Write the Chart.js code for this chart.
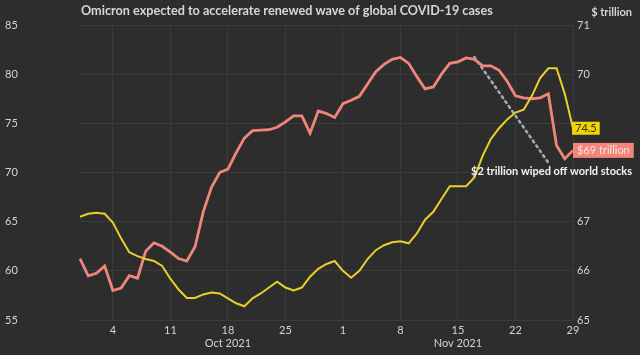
<!DOCTYPE html>
<html><head><meta charset="utf-8">
<script src="https://cdn.jsdelivr.net/npm/chart.js@4"></script>
<style>html,body{margin:0;padding:0;background:#2d2d2d;}#wrap{width:640px;height:355px;}</style>
</head><body><div id="wrap"><canvas id="c" width="640" height="355"></canvas></div>
<script>
const titleText = 'Omicron expected to accelerate renewed wave of global COVID-19 cases';
const dates = ['Sep 30',
 'Oct 1','Oct 2','Oct 3','Oct 4','Oct 5','Oct 6','Oct 7','Oct 8','Oct 9','Oct 10',
 'Oct 11','Oct 12','Oct 13','Oct 14','Oct 15','Oct 16','Oct 17','Oct 18','Oct 19','Oct 20',
 'Oct 21','Oct 22','Oct 23','Oct 24','Oct 25','Oct 26','Oct 27','Oct 28','Oct 29','Oct 30','Oct 31',
 'Nov 1','Nov 2','Nov 3','Nov 4','Nov 5','Nov 6','Nov 7','Nov 8','Nov 9','Nov 10',
 'Nov 11','Nov 12','Nov 13','Nov 14','Nov 15','Nov 16','Nov 17','Nov 18','Nov 19','Nov 20',
 'Nov 21','Nov 22','Nov 23','Nov 24','Nov 25','Nov 26','Nov 27','Nov 28','Nov 29'];
const shownTicks = ['Oct 4','Oct 11','Oct 18','Oct 25','Nov 1','Nov 8','Nov 15','Nov 22','Nov 29'];
const monthTicks = {'Oct 18':'Oct 2021','Nov 15':'Nov 2021'};
// Left axis series (yellow)
const casesSeries = [65.5,65.8,65.9,65.8,64.9,63.3,61.9,61.5,61.2,61.0,
 60.5,59.2,58.1,57.25,57.25,57.6,57.8,57.7,57.2,56.7,
 56.4,57.2,57.7,58.3,58.9,58.3,58.0,58.3,59.4,60.2,
 60.7,61.0,60.0,59.3,60.0,61.2,62.1,62.6,62.9,63.0,
 62.8,63.8,65.2,66.0,67.3,68.6,68.6,68.6,69.5,71.7,
 73.4,74.5,75.4,76.1,76.4,77.8,79.6,80.6,80.6,78.0,74.5];
// Right axis series (salmon), $ trillion
const stocksSeries = [66.25,65.9,65.95,66.1,65.6,65.65,65.9,65.85,66.4,66.57,
 66.5,66.38,66.25,66.2,66.49,67.2,67.7,68.0,68.07,68.4,
 68.7,68.85,68.86,68.87,68.92,69.03,69.15,69.15,68.8,69.25,
 69.2,69.12,69.4,69.47,69.55,69.8,70.05,70.2,70.3,70.34,
 70.22,69.95,69.7,69.74,70.0,70.22,70.25,70.33,70.3,70.17,
 70.17,70.08,69.85,69.56,69.52,69.5,69.52,69.6,68.55,68.28,68.45];
// Dotted drop line endpoints (right axis)
const dropFrom = {date:'Nov 17', value:70.35};
const dropTo = {date:'Nov 26', value:68.2};
const leftTicks = [55,60,65,70,75,80,85];
const rightTicks = [65,66,67,68,69,70,71];
const hiddenRightTicks = [68,69];
const casesLabel = '74.5';
const stocksLabel = '$69 trillion';
const dropLabel = '$2 trillion wiped off world stocks';
const rightUnit = '$ trillion';

const dropSeries = dates.map(d => d===dropFrom.date ? dropFrom.value : (d===dropTo.date ? dropTo.value : null));

const FONT = 'Lato, "Open Sans", sans-serif';
const TXT = '#d4d4d4';
const YEL = '#e8cf2c';
const RED = '#f2857a';

const overlay = {
  id:'overlay',
  afterDatasetsDraw(chart){
    const ctx = chart.ctx, ca = chart.chartArea;
    const yl = chart.scales.yL, yr = chart.scales.yR;
    ctx.save();
    // title
    ctx.font = 'bold 12px ' + FONT;
    let w = ctx.measureText(titleText).width;
    let fs = 12 * 412 / w;
    ctx.font = 'bold ' + fs.toFixed(2) + 'px ' + FONT;
    ctx.fillStyle = '#d6d6d6';
    ctx.textBaseline = 'middle';
    ctx.textAlign = 'left';
    ctx.fillText(titleText, 81, 11);
    // unit
    ctx.font = 'bold 11px ' + FONT;
    ctx.textAlign = 'right';
    ctx.fillStyle = TXT;
    ctx.fillText(rightUnit, 632, 12);
    // drop label
    ctx.font = 'bold 11px ' + FONT;
    ctx.fillStyle = '#f2f2f2';
    ctx.textAlign = 'right';
    ctx.fillText(dropLabel, 632, 171);
    // cases box
    const lastC = casesSeries[casesSeries.length-1];
    let y1 = yl.getPixelForValue(lastC);
    ctx.font = '11px ' + FONT;
    ctx.textAlign = 'left';
    let bw = ctx.measureText(casesLabel).width + 6;
    ctx.fillStyle = '#f2d20a';
    ctx.fillRect(ca.right - 1, y1 - 6.5, bw, 13);
    ctx.fillStyle = '#3a3000';
    ctx.fillText(casesLabel, ca.right + 2, y1 + 0.5);
    // stocks box
    const lastS = stocksSeries[stocksSeries.length-1];
    let y2 = yr.getPixelForValue(lastS);
    bw = ctx.measureText(stocksLabel).width + 8;
    ctx.fillStyle = '#f4857a';
    ctx.fillRect(ca.right, y2 - 7.5, bw, 15);
    ctx.fillStyle = '#fde4e0';
    ctx.fillText(stocksLabel, ca.right + 4, y2 + 0.5);
    ctx.restore();
  }
};

new Chart(document.getElementById('c'), {
  type:'line',
  data:{
    labels: dates,
    datasets:[
      {label:'Drop', data: dropSeries, yAxisID:'yR', borderColor:'#a3aeb9', borderWidth:2.5, borderDash:[2,4], borderCapStyle:'round', pointRadius:0, spanGaps:true, fill:false, order:3},
      {label:'Stocks', data: stocksSeries, yAxisID:'yR', borderColor:RED, borderWidth:2.8, pointRadius:0, tension:0, fill:false, order:2},
      {label:'Cases', data: casesSeries, yAxisID:'yL', borderColor:YEL, borderWidth:2, pointRadius:0, tension:0, fill:false, order:1}
    ]
  },
  options:{
    responsive:false, animation:false,
    layout:{padding:{top:25, left:5, right:0, bottom:0}},
    plugins:{legend:{display:false}, tooltip:{enabled:false}, title:{display:false}},
    scales:{
      x:{
        offset:false,
        grid:{drawTicks:false, color:(c)=> (c.tick && shownTicks.includes(dates[c.index])) ? '#3b3b3b' : 'rgba(0,0,0,0)', lineWidth:1},
        border:{display:false},
        ticks:{autoSkip:false, maxRotation:0, padding:4, color:TXT, font:{family:FONT, size:11}, lineHeight:1.5,
          callback:function(v,i){const l=dates[i]; if(!shownTicks.includes(l)) return ''; const d=l.split(' ')[1]; return monthTicks[l] ? [d, monthTicks[l]] : d;}},
        afterFit:(s)=>{s.height = 35;}
      },
      yL:{
        position:'left', min:55, max:85,
        afterBuildTicks:(s)=>{s.ticks = leftTicks.map(v=>({value:v}));},
        grid:{drawTicks:false, color:'#3b3b3b'},
        border:{display:false},
        ticks:{color:TXT, font:{family:FONT, size:11}, crossAlign:'far', padding:0},
        afterFit:(s)=>{s.width = 75;}
      },
      yR:{
        position:'right', min:65, max:71,
        afterBuildTicks:(s)=>{s.ticks = rightTicks.map(v=>({value:v}));},
        grid:{display:false, drawTicks:false},
        border:{display:false},
        ticks:{color:TXT, font:{family:FONT, size:11}, padding:4,
          callback:(v)=> hiddenRightTicks.includes(v) ? '' : String(v)},
        afterFit:(s)=>{s.width = 67;}
      }
    }
  },
  plugins:[overlay]
});
</script></body></html>
